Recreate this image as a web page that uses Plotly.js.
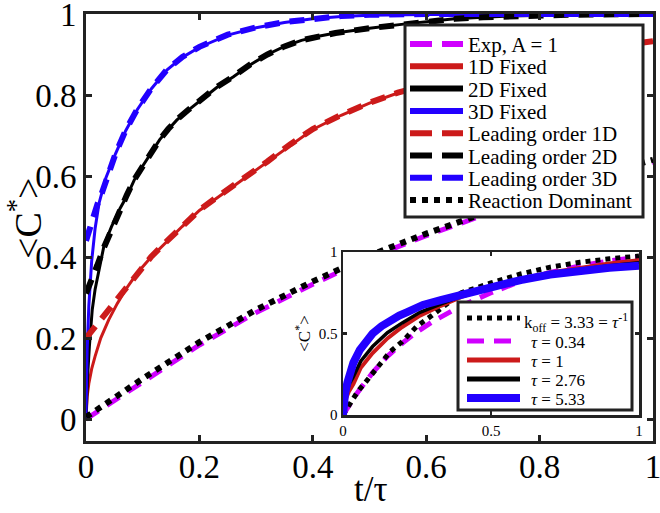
<!DOCTYPE html>
<html><head><meta charset="utf-8">
<script src="https://cdn.plot.ly/plotly-3.0.1.min.js"></script>
<style>html,body{margin:0;padding:0;background:#fff}#chart{width:660px;height:513px}</style>
</head><body><div id="chart"></div>
<script>
// ---------------- main panel data ----------------
var tExp = [0,0.1,0.2,0.3,0.4,0.5,0.6,0.7,0.8,0.9,1];
var cExp = [0,0.093,0.183,0.263,0.333,0.398,0.453,0.503,0.55,0.594,0.634];
var tRD  = [0,0.1,0.2,0.3,0.4,0.5,0.6,0.7,0.8,0.9,1];
var cRD  = [0.005,0.1,0.19,0.27,0.34,0.404,0.458,0.508,0.556,0.6,0.64];

var t1D = [0,0.0005,0.002,0.005,0.01,0.016,0.026,0.04,0.055,0.07,0.09,0.115,0.14,0.17,0.2,0.23,0.26,0.29,0.32,0.36,0.4,0.45,0.5,0.55,0.6,0.65,0.7,0.75,0.8,0.85,0.9,0.95,1];
var c1D = [0,0.028,0.055,0.088,0.124,0.155,0.2,0.245,0.285,0.32,0.36,0.4,0.435,0.476,0.515,0.546,0.575,0.605,0.635,0.677,0.715,0.75,0.78,0.805,0.825,0.845,0.862,0.877,0.89,0.902,0.913,0.923,0.932];
var t2D = [0,0.001,0.003,0.006,0.011,0.016,0.022,0.032,0.045,0.06,0.072,0.085,0.1,0.114,0.13,0.145,0.16,0.18,0.2,0.23,0.26,0.29,0.32,0.35,0.38,0.41,0.44,0.5,0.56,0.6,0.65,0.7,0.75,0.85,1];
var c2D = [0,0.06,0.11,0.18,0.27,0.32,0.365,0.43,0.475,0.52,0.55,0.59,0.625,0.655,0.69,0.715,0.738,0.762,0.785,0.818,0.845,0.875,0.9,0.92,0.935,0.945,0.953,0.965,0.975,0.981,0.988,0.992,0.995,0.998,1];
var t3D = [0,0.0005,0.002,0.005,0.01,0.016,0.023,0.035,0.052,0.07,0.09,0.115,0.143,0.17,0.2,0.25,0.3,0.35,0.4,0.45,0.5,0.6,0.8,1];
var c3D = [0,0.08,0.17,0.28,0.39,0.47,0.533,0.595,0.655,0.712,0.763,0.815,0.862,0.893,0.918,0.948,0.966,0.979,0.988,0.994,0.997,0.999,1,1];

var t1L = [0,0.01,0.02,0.035,0.05,0.07,0.09,0.115,0.14,0.17,0.2,0.23,0.26,0.29,0.32,0.36,0.4,0.45,0.5,0.55,0.6,0.65,0.7,0.75,0.8,0.85,0.9,0.95,1];
var c1L = [0.2,0.218,0.236,0.262,0.29,0.325,0.362,0.401,0.436,0.477,0.516,0.547,0.576,0.606,0.636,0.678,0.716,0.751,0.781,0.806,0.826,0.846,0.863,0.878,0.891,0.903,0.914,0.924,0.933];
var t2L = [0,0.008,0.02,0.032,0.044,0.058,0.072,0.085,0.1,0.114,0.13,0.145,0.16,0.18,0.2,0.23,0.26,0.29,0.32,0.35,0.38,0.41,0.44,0.5,0.56,0.6,0.65,0.7,0.75,0.85,1];
var c2L = [0.31,0.336,0.38,0.425,0.465,0.515,0.553,0.591,0.626,0.656,0.69,0.716,0.739,0.763,0.786,0.819,0.846,0.876,0.9,0.92,0.935,0.945,0.953,0.965,0.975,0.981,0.988,0.992,0.995,0.998,1];
var t3L = [0,0.01,0.02,0.028,0.04,0.052,0.07,0.09,0.115,0.143,0.17,0.2,0.25,0.3,0.35,0.4,0.45,0.5,0.6,0.8,1];
var c3L = [0.44,0.49,0.53,0.558,0.605,0.655,0.713,0.764,0.816,0.863,0.894,0.919,0.949,0.967,0.98,0.989,0.995,0.998,1,1,1];

var mainNames = ['Exp, A = 1','1D Fixed','2D Fixed','3D Fixed','Leading order 1D','Leading order 2D','Leading order 3D','Reaction Dominant'];
var mainTicks = [0,0.2,0.4,0.6,0.8,1];
var mainTickText = ['0','0.2','0.4','0.6','0.8','1'];

// ---------------- inset data ----------------
var tK = [0,0.02,0.05,0.08,0.12,0.16,0.2,0.25,0.3,0.4,0.5,0.6,0.7,0.8,0.9,1];
var cK = [0,0.06,0.145,0.21,0.3,0.39,0.45,0.545,0.61,0.75,0.81,0.865,0.907,0.937,0.958,0.975];
var tM = [0,0.02,0.05,0.1,0.15,0.2,0.25,0.3,0.4,0.5,0.6,0.7,0.8,0.9,1];
var cM = [0,0.055,0.14,0.26,0.36,0.44,0.51,0.57,0.67,0.75,0.82,0.875,0.915,0.945,0.97];
var tTau1 = [0,0.003,0.01,0.02,0.035,0.06,0.1,0.15,0.2,0.26,0.33,0.4,0.5,0.6,0.7,0.8,0.9,1];
var cTau1 = [0,0.05,0.1,0.145,0.19,0.29,0.38,0.47,0.54,0.61,0.67,0.725,0.785,0.835,0.875,0.905,0.93,0.95];
var tTau276 = [0,0.003,0.01,0.02,0.035,0.06,0.1,0.15,0.2,0.26,0.33,0.4,0.5,0.6,0.7,0.8,0.9,1];
var cTau276 = [0,0.07,0.13,0.185,0.235,0.33,0.42,0.505,0.565,0.63,0.68,0.73,0.785,0.828,0.865,0.893,0.915,0.934];
var tTau533 = [0,0.003,0.007,0.015,0.024,0.035,0.057,0.08,0.1,0.13,0.159,0.19,0.215,0.27,0.33,0.4,0.45,0.5,0.6,0.7,0.8,0.9,1];
var cTau533 = [0,0.09,0.133,0.2,0.276,0.32,0.4,0.46,0.5,0.545,0.58,0.61,0.63,0.675,0.705,0.735,0.76,0.79,0.828,0.862,0.887,0.903,0.916];

var insetNames = ['k<sub>off</sub> = 3.33 = <i>τ</i><sup>-1</sup>','<i>τ</i> = 0.34','<i>τ</i> = 1','<i>τ</i> = 2.76','<i>τ</i> = 5.33'];
var insetTicks = [0,0.5,1];
var insetTickText = ['0','0.5','1'];

// ---------------- styling ----------------
var RED='#CC1A1A', BLUE='#2200FF', MAG='#D000FF', BLK='#000000', AX='#222222';
var FONT='Liberation Serif, Times New Roman, serif';
var L=86, R=653, T=14, B=441;
function px(x){return (x-L)/(R-L);}
function py(y){return (B-y)/(B-T);}

function tr(x,y,name,color,width,dash,xa,ya){
  return {x:x,y:y,name:name,type:'scatter',mode:'lines',xaxis:xa,yaxis:ya,showlegend:false,
    line:{color:color,width:width,dash:dash,shape:'linear'},hoverinfo:'skip'};
}
var DASH='15px,10px';
var mainTraces = [
  tr(tExp,cExp,mainNames[0],MAG,5,DASH,'x','y'),
  tr(t1D,c1D,mainNames[1],RED,3,'solid','x','y'),
  tr(t2D,c2D,mainNames[2],BLK,3,'solid','x','y'),
  tr(t3D,c3D,mainNames[3],BLUE,3,'solid','x','y'),
  tr(t1L,c1L,mainNames[4],RED,6,DASH,'x','y'),
  tr(t2L,c2L,mainNames[5],BLK,6,DASH,'x','y'),
  tr(t3L,c3L,mainNames[6],BLUE,6,DASH,'x','y'),
  tr(tRD,cRD,mainNames[7],BLK,6,'dot','x','y')
];
var insetTraces = [
  tr(tM,cM,insetNames[1],MAG,5,'14px,9px','x2','y2'),
  tr(tK,cK,insetNames[0],BLK,5,'dot','x2','y2'),
  tr(tTau1,cTau1,insetNames[2],RED,4,'solid','x2','y2'),
  tr(tTau276,cTau276,insetNames[3],BLK,3.5,'solid','x2','y2'),
  tr(tTau533,cTau533,insetNames[4],BLUE,8,'solid','x2','y2')
];
var insetLegendOrder = [1,0,2,3,4];

var shapes=[], annotations=[];
// main legend (built from the trace definitions)
shapes.push({type:'rect',xref:'paper',yref:'paper',x0:px(405),x1:px(643),y0:py(217),y1:py(25),
  line:{color:AX,width:3},fillcolor:'white',layer:'above'});
mainTraces.forEach(function(t,i){
  var yy = 44 + 22.3*i;
  var d = t.line.dash==='solid' ? 'solid' : (t.line.dash==='dot' ? 'dot' : '22px,10px');
  shapes.push({type:'line',xref:'paper',yref:'paper',x0:px(410),x1:px(463),y0:py(yy),y1:py(yy),
    line:{color:t.line.color,width:6,dash:d},layer:'above'});
  annotations.push({xref:'paper',yref:'paper',x:px(466),y:py(yy+1),xanchor:'left',yanchor:'middle',
    text:t.name,showarrow:false,font:{family:FONT,size:21,color:'#000'}});
});
// inset legend
shapes.push({type:'rect',xref:'paper',yref:'paper',x0:px(458),x1:px(632),y0:py(410),y1:py(302),
  line:{color:AX,width:3},fillcolor:'white',layer:'above'});
var insetRows=[318,341,360,379,398];
insetLegendOrder.forEach(function(k,i){
  var t=insetTraces[k], yy=insetRows[i];
  var d = t.line.dash==='solid' ? 'solid' : (t.line.dash==='dot' ? 'dot' : '17px,10px');
  shapes.push({type:'line',xref:'paper',yref:'paper',x0:px(467),x1:px(520),y0:py(yy),y1:py(yy),
    line:{color:t.line.color,width:(t.line.width>6?8:5),dash:d},layer:'above'});
  annotations.push({xref:'paper',yref:'paper',x:px(i===0?522:529),y:py(yy+(i===0?4:1)),xanchor:'left',yanchor:'middle',
    text:t.name,showarrow:false,font:{family:FONT,size:17,color:'#000'}});
});
// axis titles
annotations.push({xref:'paper',yref:'paper',x:px(25),y:py(218),textangle:-90,xanchor:'center',yanchor:'middle',
  text:'&lt;C<sup>*</sup>&gt;',showarrow:false,font:{family:FONT,size:38,color:'#000'}});
annotations.push({xref:'paper',yref:'paper',x:px(371),y:py(490),xanchor:'center',yanchor:'middle',
  text:'t/τ',showarrow:false,font:{family:FONT,size:35,color:'#000'}});

function ax(o){
  var base={showline:true,linecolor:AX,mirror:'ticks',ticks:'inside',tickcolor:AX,showgrid:false,zeroline:false,
    fixedrange:true,ticklabeloverflow:'allow'};
  for(var k in o) base[k]=o[k];
  return base;
}
var layout={
  width:660,height:513,paper_bgcolor:'white',plot_bgcolor:'white',
  margin:{l:L,r:660-R,t:T,b:513-B},
  font:{family:FONT,color:'#000'},
  xaxis:ax({range:[0,1],domain:[0,1],linewidth:3,tickwidth:3,ticklen:6,tickvals:mainTicks,ticktext:mainTickText,
    tickfont:{family:FONT,size:33,color:'#000'},ticklabelstandoff:-6}),
  yaxis:ax({range:[-0.054,1],domain:[0,1],linewidth:3,tickwidth:3,ticklen:6,tickvals:mainTicks,ticktext:mainTickText,
    tickfont:{family:FONT,size:33,color:'#000'}}),
  xaxis2:ax({range:[0,1],domain:[px(343),px(639)],anchor:'y2',linewidth:2.5,tickwidth:2.5,ticklen:4,
    tickvals:insetTicks,ticktext:insetTickText,tickfont:{family:FONT,size:15,color:'#000'}}),
  yaxis2:ax({range:[0,1],domain:[py(415),py(252)],anchor:'x2',linewidth:2.5,tickwidth:2.5,ticklen:4,
    tickvals:insetTicks,ticktext:insetTickText,tickfont:{family:FONT,size:15,color:'#000'},
    title:{text:'&lt;C<sup>*</sup>&gt;',font:{family:FONT,size:17,color:'#000'},standoff:4}}),
  shapes:shapes,annotations:annotations,showlegend:false
};
Plotly.newPlot('chart',mainTraces.concat(insetTraces),layout,{staticPlot:true,displayModeBar:false});
</script></body></html>
